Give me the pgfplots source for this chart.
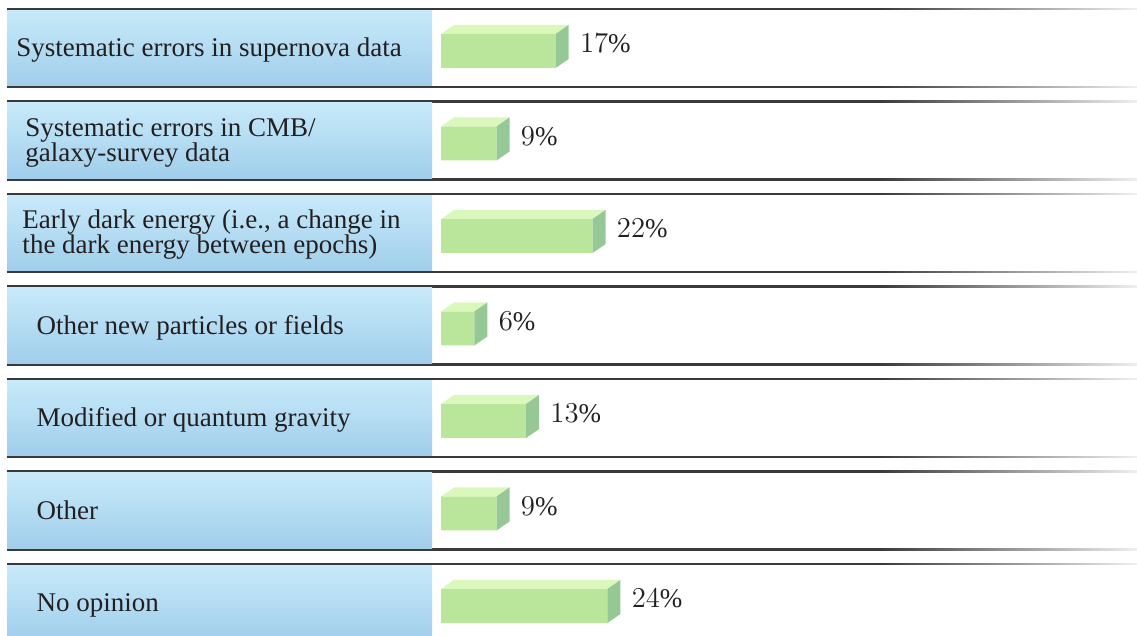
\documentclass[border=0pt]{standalone}
\usepackage{pgfplots}
\usepackage{pgfplotstable}
\pgfplotsset{compat=1.18}
\usepackage{fontspec}
\setmainfont{Liberation Serif}

\definecolor{paneltop}{RGB}{200,234,250}
\definecolor{panelbot}{RGB}{160,206,235}
\definecolor{barfront}{RGB}{185,230,155}
\definecolor{bartop}{RGB}{218,248,188}
\definecolor{barside}{RGB}{150,200,150}
\definecolor{rule}{RGB}{58,58,58}
\definecolor{ink}{RGB}{35,31,32}

% row index, share in percent
\pgfplotstableread{
row v
0 17
1 9
2 22
3 6
4 13
5 9
6 24
}\answers

\begin{document}
\begin{tikzpicture}
\begin{axis}[
    scale only axis, width=568.5pt, height=318pt,
    xmin=-58.19, xmax=95.67,
    ymin=-0.5189, ymax=6.3568, y dir=reverse,
    hide axis,
    font=\fontsize{13.5pt}{12.5pt}\selectfont,
]
% separator rules
\pgfplotsinvokeforeach{0,...,6}{
  \draw[rule, line width=1.3pt] (axis cs:-57.24,#1-0.4216) -- (axis cs:60.89,#1-0.4216);
  \shade[left color=rule, right color=rule!8] (axis cs:60.89,#1-0.4216-0.007) rectangle (axis cs:95.67,#1-0.4216+0.007);
  \draw[rule, line width=1.3pt] (axis cs:-57.24,#1+0.4216) -- (axis cs:60.89,#1+0.4216);
  \shade[left color=rule, right color=rule!8] (axis cs:60.89,#1+0.4216-0.007) rectangle (axis cs:95.67,#1+0.4216+0.007);
}

% front faces of the bars
\addplot[xbar, fill=barfront, draw=none, bar width=0.368, bar shift=0.032,
    point meta=x,
    nodes near coords={\pgfmathprintnumber{\pgfplotspointmeta}\%},
    nodes near coords align={horizontal},
    every node near coord/.append style={anchor=base west, inner sep=0pt,
        xshift=12pt, yshift=-2.5pt, text=ink, font=\fontsize{13.5pt}{12.5pt}\selectfont},
] table[x=v, y=row] {\answers};

% label panels, and the white gap between panel and bars
\pgfplotsinvokeforeach{0,...,6}{
  \fill[white] (axis cs:-1,#1-0.40) rectangle (axis cs:1.49,#1+0.40);
  \fill[top color=paneltop, bottom color=panelbot] (axis cs:-57.24,#1-0.41) rectangle (axis cs:0.27,#1+0.41);
}

% top and side faces
\pgfplotsinvokeforeach{0,...,6}{
  \pgfplotstablegetelem{#1}{v}\of\answers
  \pgfmathsetmacro{\xe}{\pgfplotsretval}
  \pgfmathsetmacro{\xb}{\pgfplotsretval+1.76}
  \pgfmathsetmacro{\ya}{#1-0.152}
  \pgfmathsetmacro{\yb}{#1-0.249}
  \pgfmathsetmacro{\yc}{#1+0.216}
  \pgfmathsetmacro{\yd}{#1+0.119}
  \edef\faces{%
    \noexpand\fill[bartop] (axis cs:1.49,\ya) -- (axis cs:\xe,\ya) -- (axis cs:\xb,\yb) -- (axis cs:3.25,\yb) -- cycle;
    \noexpand\fill[barside] (axis cs:\xe,\ya) -- (axis cs:\xb,\yb) -- (axis cs:\xb,\yd) -- (axis cs:\xe,\yc) -- cycle;
  }
  \faces
}

% category labels
\begin{scope}[every node/.style={anchor=base west, inner sep=0pt, text=ink}]
\node at (axis cs:-56.02,0.097) {Systematic errors in supernova data};
\node at (axis cs:-54.80,1-0.04) {Systematic errors in CMB/};
\node at (axis cs:-54.80,1+0.23) {galaxy-survey data};
\node at (axis cs:-55.20,2-0.05) {Early dark energy (i.e., a change in};
\node at (axis cs:-55.20,2+0.22) {the dark energy between epochs)};
\node at (axis cs:-53.30,3.097) {Other new particles or fields};
\node at (axis cs:-53.30,4.097) {Modified or quantum gravity};
\node at (axis cs:-53.30,5.097) {Other};
\node at (axis cs:-53.30,6.097) {No opinion};
\end{scope}
\end{axis}
\pgfresetboundingbox
\path (current axis.south west) rectangle (current axis.north east);
\end{tikzpicture}
\end{document}
